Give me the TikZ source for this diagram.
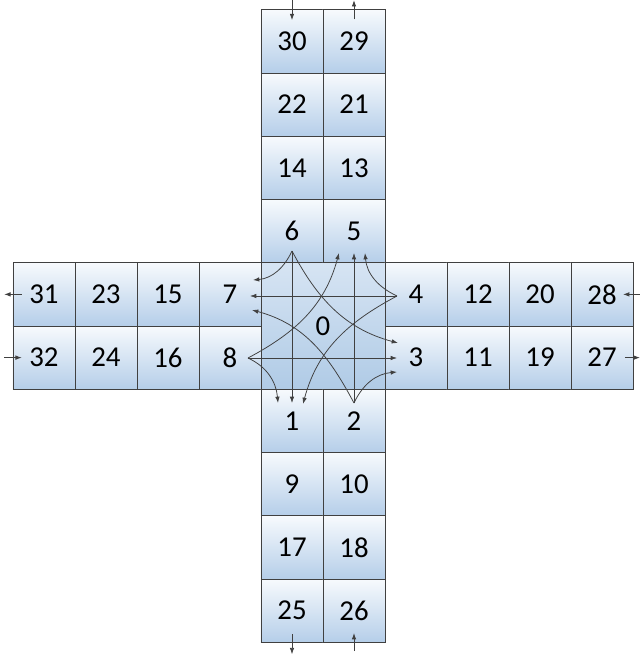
\documentclass[tikz,border=0pt]{standalone}
\usepackage{fontspec}
\setmainfont{Carlito}
\usetikzlibrary{arrows.meta, positioning}
\definecolor{celltop}{RGB}{247,250,253}
\definecolor{cellbot}{RGB}{181,206,233}
\definecolor{hubtop}{RGB}{214,228,243}
\definecolor{hubbot}{RGB}{176,203,230}
\definecolor{edge}{RGB}{64,64,64}

\begin{document}
\begin{tikzpicture}[
    node distance=0pt,
    cell/.style={draw=edge, line width=0.7pt, outer sep=0pt, minimum width=1.55cm, minimum height=1.58125cm, top color=celltop, bottom color=cellbot, font=\fontsize{20.5}{24}\selectfont},
    hub/.style={cell, minimum width=3.1cm, minimum height=3.1625cm, top color=hubtop, bottom color=hubbot},
    arr/.style={-{Latex[length=4.5pt,width=3.2pt]}, draw=black!75, line width=0.55pt}
  ]
    \useasboundingbox (-8.075,-8.35) rectangle (7.925,8.15);
    \node[hub] (c0) {0};
    % top arm
    \node[cell, above right=0pt and 0pt of c0.north west] (c6) {6};
    \node[cell, right=of c6] (c5) {5};
    \node[cell, above=of c6] (c14) {14};
    \node[cell, above=of c5] (c13) {13};
    \node[cell, above=of c14] (c22) {22};
    \node[cell, above=of c13] (c21) {21};
    \node[cell, above=of c22] (c30) {30};
    \node[cell, above=of c21] (c29) {29};
    % left arm
    \node[cell, above left=0pt and 0pt of c0.west] (c7) {7};
    \node[cell, below=of c7] (c8) {8};
    \node[cell, left=of c7] (c15) {15};
    \node[cell, left=of c8] (c16) {16};
    \node[cell, left=of c15] (c23) {23};
    \node[cell, left=of c16] (c24) {24};
    \node[cell, left=of c23] (c31) {31};
    \node[cell, left=of c24] (c32) {32};
    % right arm
    \node[cell, above right=0pt and 0pt of c0.east] (c4) {4};
    \node[cell, below=of c4] (c3) {3};
    \node[cell, right=of c4] (c12) {12};
    \node[cell, right=of c3] (c11) {11};
    \node[cell, right=of c12] (c20) {20};
    \node[cell, right=of c11] (c19) {19};
    \node[cell, right=of c20] (c28) {28};
    \node[cell, right=of c19] (c27) {27};
    % bottom arm
    \node[cell, below right=0pt and 0pt of c0.south west] (c1) {1};
    \node[cell, right=of c1] (c2) {2};
    \node[cell, below=of c1] (c9) {9};
    \node[cell, below=of c2] (c10) {10};
    \node[cell, below=of c9] (c17) {17};
    \node[cell, below=of c10] (c18) {18};
    \node[cell, below=of c17] (c25) {25};
    \node[cell, below=of c18] (c26) {26};

    % ways in and out at the ends
    \draw[arr] ([yshift=0.24cm]c30.north) -- ([yshift=-0.26cm]c30.north);
    \draw[arr] ([yshift=-0.24cm]c29.north) -- ([yshift=0.24cm]c29.north);
    \draw[arr] ([yshift=0.2cm]c25.south) -- ([yshift=-0.3cm]c25.south);
    \draw[arr] ([yshift=-0.22cm]c26.south) -- ([yshift=0.23cm]c26.south);
    \draw[arr] ([xshift=0.22cm]c31.west) -- ([xshift=-0.22cm]c31.west);
    \draw[arr] ([xshift=-0.22cm]c32.west) -- ([xshift=0.22cm]c32.west);
    \draw[arr] ([xshift=0.175cm]c28.east) -- ([xshift=-0.25cm]c28.east);
    \draw[arr] ([xshift=-0.2cm]c27.east) -- ([xshift=0.175cm]c27.east);

    % turns through the middle
    \coordinate (a6) at (-0.775,1.875);
    \coordinate (a4) at (1.85,0.75);
    \coordinate (a2) at (0.775,-1.925);
    \coordinate (a8) at (-1.875,-0.8);
    \coordinate (s6) at (-1.75,1.15);
    \coordinate (v6) at (-0.775,-1.925);
    \coordinate (l6) at (1.875,-0.425);
    \coordinate (s4) at (1.05,1.825);
    \coordinate (v4) at (-1.825,0.75);
    \coordinate (l4) at (-0.5,-1.95);
    \coordinate (s2) at (1.85,-1.15);
    \coordinate (v2) at (0.775,1.825);
    \coordinate (l2) at (-1.775,0.4);
    \coordinate (s8) at (-1.125,-1.925);
    \coordinate (v8) at (1.85,-0.8);
    \coordinate (l8) at (0.4,1.825);
    \draw[arr] (a6) to[out=-115,in=5] (s6);
    \draw[arr] (a6) -- (v6);
    \draw[arr] (a6) to[out=-62,in=165] (l6);
    \draw[arr] (a4) to[out=155,in=-85] (s4);
    \draw[arr] (a4) -- (v4);
    \draw[arr] (a4) to[out=208,in=75] (l4);
    \draw[arr] (a2) to[out=65,in=185] (s2);
    \draw[arr] (a2) -- (v2);
    \draw[arr] (a2) to[out=118,in=-15] (l2);
    \draw[arr] (a8) to[out=-25,in=95] (s8);
    \draw[arr] (a8) -- (v8);
    \draw[arr] (a8) to[out=28,in=255] (l8);
  \end{tikzpicture}
\end{document}
